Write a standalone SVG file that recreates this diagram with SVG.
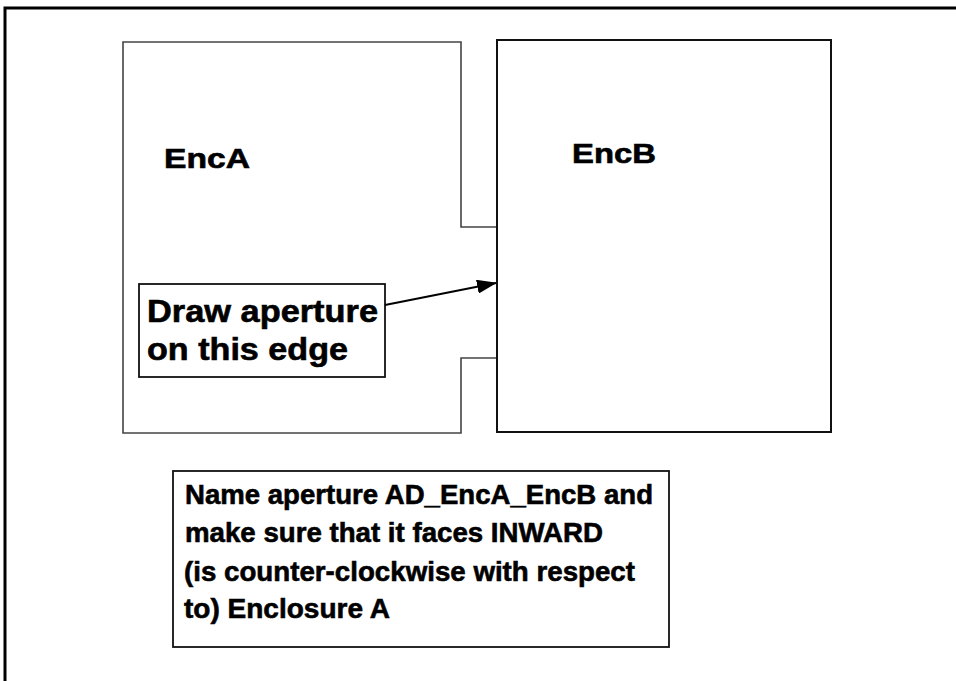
<svg xmlns="http://www.w3.org/2000/svg" width="956" height="681" viewBox="0 0 956 681">
<style>
text{font-family:"Liberation Sans",Arial,Helvetica,sans-serif;font-weight:bold;fill:#000;stroke:#000;stroke-width:0.6}
.enc{font-size:27px}
.lbl{font-size:31px}
.note{font-size:28.5px}
.edge{fill:none;stroke-linejoin:miter}
</style>
<defs>
<marker id="ah" markerWidth="20" markerHeight="14" refX="19" refY="7" orient="auto" markerUnits="userSpaceOnUse">
<path d="M0,0 L20,7 L0,14 Z" fill="#000"/>
</marker>
</defs>
<rect width="956" height="681" fill="#fff"/>
<g id="frame">
<path d="M5,681 V8 H956" fill="none" stroke="#000" stroke-width="3"/>
</g>
<g id="EncA">
<path class="edge" d="M123,42 H461 V227 H497 V358 H461 V433 H123 Z" stroke="#444" stroke-width="1.6"/>
<text class="enc" x="164" y="168" textLength="86" lengthAdjust="spacingAndGlyphs">EncA</text>
</g>
<g id="EncB">
<rect class="edge" x="497" y="40" width="334" height="392" stroke="#111" stroke-width="2"/>
<text class="enc" x="572" y="163" textLength="84" lengthAdjust="spacingAndGlyphs">EncB</text>
</g>
<g id="callout">
<rect class="edge" x="139" y="284" width="246" height="93" stroke="#111" stroke-width="1.8" fill="#fff"/>
<text class="lbl" x="147" y="322" textLength="231" lengthAdjust="spacingAndGlyphs">Draw aperture</text>
<text class="lbl" x="147" y="360" textLength="201" lengthAdjust="spacingAndGlyphs">on this edge</text>
</g>
<g id="connectors">
<line x1="385" y1="305" x2="496" y2="283" stroke="#000" stroke-width="2" marker-end="url(#ah)"/>
</g>
<g id="note">
<rect class="edge" x="173" y="471" width="496" height="176" stroke="#111" stroke-width="1.8"/>
<text class="note" x="185" y="504" textLength="468" lengthAdjust="spacingAndGlyphs">Name aperture AD_EncA_EncB and</text>
<text class="note" x="185" y="542" textLength="418" lengthAdjust="spacingAndGlyphs">make sure that it faces INWARD</text>
<text class="note" x="184" y="581" textLength="451" lengthAdjust="spacingAndGlyphs">(is counter-clockwise with respect</text>
<text class="note" x="184" y="618" textLength="206" lengthAdjust="spacingAndGlyphs">to) Enclosure A</text>
</g>
</svg>
